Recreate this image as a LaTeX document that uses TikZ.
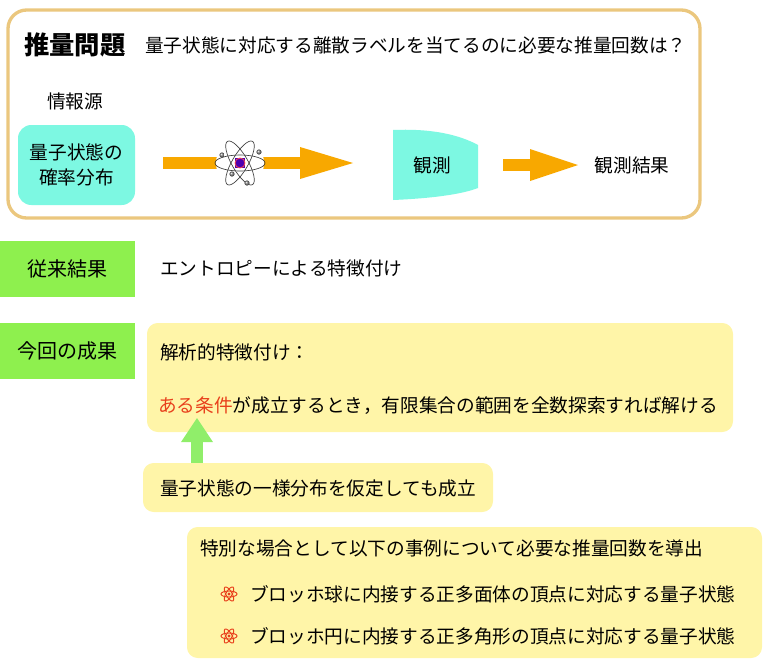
\documentclass[tikz,border=0pt]{standalone}
\usepackage{fontspec}
\setmainfont{Noto Sans CJK JP}
\usetikzlibrary{shapes,arrows,calc,positioning}
\definecolor{frameTan}{HTML}{EBC77E}
\definecolor{srcCyan}{HTML}{7DF8E2}
\definecolor{resGreen}{HTML}{8EF04E}
\definecolor{noteYellow}{HTML}{FFF5A8}
\definecolor{flowOrange}{HTML}{F8A800}
\definecolor{upGreen}{HTML}{90EE6A}
\definecolor{condRed}{HTML}{E8401C}
\tikzset{
    txt/.style = {font=\fontsize{14}{17}\selectfont, inner sep=0pt},
    tagBox/.style = {draw=none, fill=resGreen, minimum width=101.25pt, minimum height=42pt,
        font=\fontsize{15}{18}\selectfont},
    note/.style = {fill=noteYellow, rounded corners=8pt},
    atomIcon/.pic = {
        \foreach \a in {0,60,120} \draw[condRed, line width=0.7pt, rotate=\a] (0,0) ellipse (8 and 3);
        \fill[condRed] (0,0) circle (1.6);
    },
}
\begin{document}
\begin{tikzpicture}[x=0.75pt, y=-0.75pt]
	\useasboundingbox (0,0) rectangle (768,665);
	% problem frame
	\draw [frameTan, line width=2.5pt, fill=white, rounded corners=14pt] (8,10) rectangle (700,218);
	\node [txt, font=\fontsize{19}{22}\selectfont\bfseries] (probTitle) at (75,45) {推量問題};
	\node [txt, anchor=west] (probText) at (145,45) {量子状態に対応する離散ラベルを当てるのに必要な推量回数は？};
	\node [txt] (srcLabel) at (75,101) {情報源};
	
	% source
	\node [fill=srcCyan, rounded corners=10pt, minimum width=87.75pt, minimum height=60pt,
	       align=center, txt] (source) at (76.5,165) {量子状態の\\[2pt]確率分布};
	
	% flow arrow with atom
	\fill [flowOrange] (163,157) rectangle (300,169);
	\fill [flowOrange] (300,147) -- (353,163) -- (300,179) -- cycle;
	\coordinate (atom) at (240,163);
	\fill [white] (atom) circle (24);
	\foreach \a in {0,60,120}
		\draw [black!75, line width=0.5pt, rotate around={\a:(atom)}] (atom) ellipse (25 and 8);
	\fill [blue!70!red] ($(atom)+(-5,-5)$) rectangle ($(atom)+(5,5)$);
	\draw [red!70, line width=0.6pt] (atom) circle (5);
	\foreach \p in {(222,155),(259,152),(247,183),(232,174)}
		\shade [ball color=gray] \p circle (2.6);
	
	% measurement
	\fill [srcCyan] (393,130) .. controls (440,128) and (465,138) .. (478,145)
		-- (478,188) .. controls (465,193) and (440,198) .. (393,200) -- cycle;
	\node [txt] (meas) at (432,165) {観測};
	\fill [flowOrange] (503,159) rectangle (532,171);
	\fill [flowOrange] (530,149) -- (578,165) -- (530,181) -- cycle;
	\node [txt] (outcome) at (632,165) {観測結果};
	
	% previous result
	\node [tagBox] (prevLab) at (67.5,268.5) {従来結果};
	\node [txt, anchor=west] (prevText) at (160,268) {エントロピーによる特徴付け};
	
	% this result
	\node [tagBox] (nowLab) at (67.5,350.5) {今回の成果};
	\fill [note] (147,323) rectangle (733,432);
	\node [txt, anchor=west] (charText) at (160,352) {解析的特徴付け：};
	\node [txt, anchor=west] (condText) at (158,406) {\textcolor{condRed}{ある条件}が成立するとき，有限集合の範囲を全数探索すれば解ける};
	
	% uniform note
	\fill [upGreen] (191,465) rectangle (203,440);
	\fill [upGreen] (181,442) -- (197,418) -- (213,442) -- cycle;
	\fill [note] (143,463) rectangle (493,512);
	\node [txt, anchor=west] (uniText) at (160,488) {量子状態の一様分布を仮定しても成立};
	
	% special cases
	\fill [note] (187,527) rectangle (762,658);
	\node [txt, anchor=west] (caseText) at (200,548) {特別な場合として以下の事例について必要な推量回数を導出};
	\pic at (229,594) {atomIcon};
	\node [txt, anchor=west] (caseA) at (250,594) {ブロッホ球に内接する正多面体の頂点に対応する量子状態};
	\pic at (229,636) {atomIcon};
	\node [txt, anchor=west] (caseB) at (250,636) {ブロッホ円に内接する正多角形の頂点に対応する量子状態};
\end{tikzpicture}
\end{document}
